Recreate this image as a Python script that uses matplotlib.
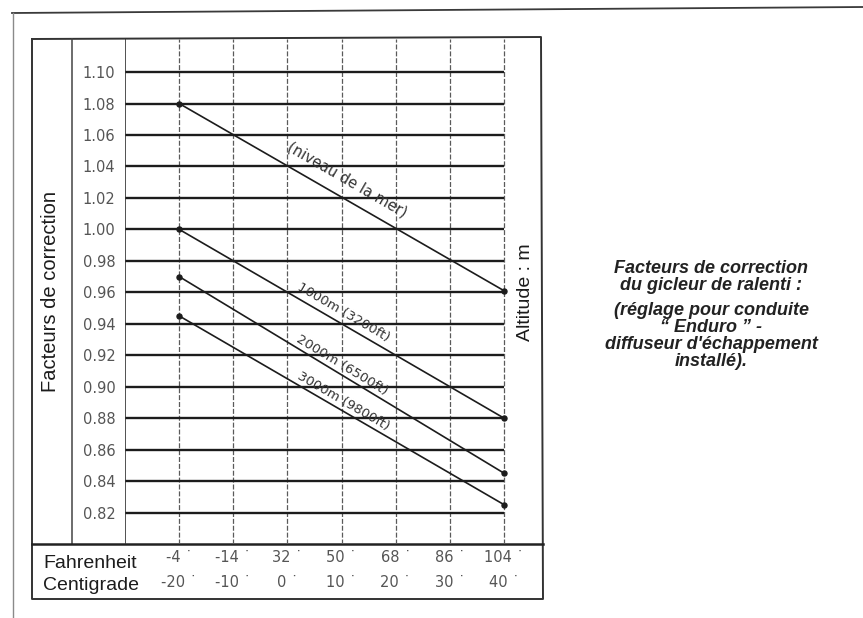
import matplotlib
matplotlib.use("Agg")
import matplotlib.pyplot as plt
import numpy as np

# ---------------- data ----------------
celsius = [-20, -10, 0, 10, 20, 30, 40]
fahrenheit_labels = ["-4", "-14", "32", "50", "68", "86", "104"]
centigrade_labels = ["-20", "-10", "0", "10", "20", "30", "40"]
ytick_values = [0.82, 0.84, 0.86, 0.88, 0.90, 0.92, 0.94, 0.96, 0.98,
                1.00, 1.02, 1.04, 1.06, 1.08, 1.10]

line_temps = [-20, 40]
sea_level = [1.08, 0.961]
alt_1000 = [1.00, 0.880]
alt_2000 = [0.970, 0.845]
alt_3000 = [0.945, 0.825]
series_labels = ["(niveau de la mer)", "1000m (3200ft)", "2000m (6500ft)", "3000m (9800ft)"]

# ---------------- layout ----------------
W, H = 863, 618
fig = plt.figure(figsize=(W / 100, H / 100), dpi=100)
fig.patch.set_facecolor("white")

bg = fig.add_axes([0, 0, 1, 1], zorder=0)
bg.set_xlim(0, W)
bg.set_ylim(H, 0)
bg.axis("off")

dark = "#1c1c1c"
gray = "#555555"

# outer page frame
bg.plot([12, 863], [13, 7], color="#3a3a3a", lw=1.3)
bg.plot([12.5, 12.5], [13, 618], color="#8a8a8a", lw=1.0)
# inner box
bg.plot([32, 541, 543, 32, 32], [39, 37, 599, 599, 39], color="#333333", lw=1.4)
bg.plot([72, 72], [39, 544], color="#444444", lw=1.1)
bg.plot([32, 543], [544, 544], color="#222222", lw=1.8)

# main axes (plot area)
ax = fig.add_axes([125 / W, (H - 544) / H, 418 / W, 505 / H], zorder=2)
ax.set_facecolor("none")
ax.set_xlim(-30, 47.2)
ax.set_ylim(0.80, 1.121)
for s in ["left", "right", "top", "bottom"]:
    ax.spines[s].set_visible(False)

ax.hlines(ytick_values, -30, 40, color=dark, lw=1.7, zorder=2)
ax.vlines(celsius, 0.80, 1.121, color="#5a5a5a", lw=0.9,
          linestyles=(0, (4, 1.5)), zorder=1)
ax.axvline(-30, color="#333333", lw=1.2)

series = [sea_level, alt_1000, alt_2000, alt_3000]
for vals in series:
    ax.plot(line_temps, vals, color=dark, lw=1.2, marker="o", ms=3.6, zorder=3)

# y tick labels
ax.set_yticks(ytick_values, [f"{v:.2f}" for v in ytick_values])
ax.tick_params(axis="y", length=0, pad=7, labelsize=10.5, labelcolor=gray)

# x tick labels (two rows: Fahrenheit / Centigrade)
ax.set_xticks(celsius, [f"{f} \u02d9\n{c} \u02d9" for f, c in zip(fahrenheit_labels, centigrade_labels)])
ax.tick_params(axis="x", length=0, pad=4.5, labelsize=10.5, labelcolor=gray)
for t in ax.get_xticklabels():
    t.set_linespacing(1.8)

# labels along the lines
fig.canvas.draw()
label_x = [9.4, 9.3, 9.3, 9.5]
label_off = [18, 11, 9, 9]
label_size = [10.5, 9.5, 9.5, 9.5]
for txt, vals, lx, off, fs in zip(series_labels, series, label_x, label_off, label_size):
    ly = np.interp(lx, line_temps, vals)
    p0 = ax.transData.transform((line_temps[0], vals[0]))
    p1 = ax.transData.transform((line_temps[1], vals[1]))
    ang = np.degrees(np.arctan2(p1[1] - p0[1], p1[0] - p0[0]))
    nx, ny = -np.sin(np.radians(ang)), np.cos(np.radians(ang))
    ax.annotate(txt, (lx, ly), xytext=(nx * off * 0.72, ny * off * 0.72),
                textcoords="offset points", rotation=ang, rotation_mode="anchor",
                ha="center", va="center", fontsize=fs, color="#333333", zorder=4)

sans = ["Liberation Sans", "DejaVu Sans"]
bg.text(50, 292, "Facteurs de correction", rotation=90, ha="center", va="center",
        fontsize=14.5, family=sans, color=dark)
bg.text(525, 292, "Altitude : m", rotation=90, ha="center", va="center",
        fontsize=14, family=sans, color=dark)
bg.text(43, 564, "Fahrenheit", ha="left", va="center", fontsize=14, family=sans, color=dark)
bg.text(43, 585, "Centigrade", ha="left", va="center", fontsize=14, family=sans, color=dark)

bg.text(711, 277, "Facteurs de correction\ndu gicleur de ralenti :", ha="center", va="center",
        fontsize=13, family=sans, style="italic", weight="bold", color="#222222",
        linespacing=1.05)
bg.text(711, 336, "(réglage pour conduite\n\u201c Enduro \u201d -\ndiffuseur d'échappement\ninstallé).",
        ha="center", va="center", fontsize=13, family=sans, style="italic", weight="bold",
        color="#222222", linespacing=1.02)

fig.savefig("out.png", dpi=100, facecolor="white")
